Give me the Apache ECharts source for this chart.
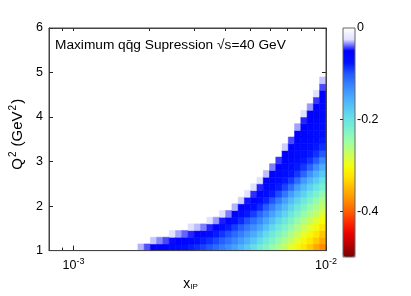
<!DOCTYPE html>
<html>
<head>
<meta charset="utf-8">
<script src="https://cdn.jsdelivr.net/npm/echarts@6/dist/echarts.min.js"></script>
<style>html,body{margin:0;padding:0;background:#fff;}#chart{width:411px;height:296px;}</style>
</head>
<body>
<div id="chart"></div>
<script>
// x_IP bin edges (log-spaced bins)
const xEdges = [0.0018, 0.001906, 0.002018, 0.002136, 0.002262, 0.002395, 0.002536, 0.002685, 0.002843, 0.003010,
  0.003187, 0.003375, 0.003573, 0.003783, 0.004006, 0.004241, 0.004491, 0.004755, 0.005034, 0.005330,
  0.005644, 0.005976, 0.006327, 0.006699, 0.007093, 0.007510, 0.007952, 0.008420, 0.008915, 0.009439, 0.0100];
// Q^2 bin edges
const qEdges = [1.0, 1.15, 1.3, 1.45, 1.6, 1.75, 1.9, 2.05, 2.2, 2.35, 2.5, 2.65, 2.8, 2.95, 3.1, 3.25, 3.4,
  3.55, 3.7, 3.85, 4.0, 4.15, 4.3, 4.45, 4.6, 4.75, 4.9, 5.05];
// suppression values per x bin, listed from the lowest Q^2 bin upward (cells above are empty)
const suppressionByColumn = [
  [-0.03],
  [-0.041],
  [-0.05, -0.028],
  [-0.054, -0.035],
  [-0.058, -0.042],
  [-0.062, -0.049, -0.025],
  [-0.067, -0.053, -0.032],
  [-0.073, -0.058, -0.039],
  [-0.08, -0.063, -0.046, -0.025],
  [-0.085, -0.07, -0.052, -0.029],
  [-0.092, -0.08, -0.059, -0.036],
  [-0.1, -0.086, -0.069, -0.046, -0.025],
  [-0.11, -0.094, -0.079, -0.057, -0.033],
  [-0.12, -0.104, -0.088, -0.068, -0.047, -0.025],
  [-0.132, -0.115, -0.098, -0.079, -0.059, -0.036],
  [-0.146, -0.127, -0.11, -0.091, -0.072, -0.053, -0.03],
  [-0.16, -0.141, -0.122, -0.103, -0.084, -0.067, -0.051, -0.027],
  [-0.176, -0.156, -0.137, -0.117, -0.098, -0.078, -0.063, -0.048, -0.025],
  [-0.195, -0.173, -0.152, -0.132, -0.113, -0.091, -0.073, -0.06, -0.045, -0.025],
  [-0.211, -0.193, -0.171, -0.148, -0.128, -0.108, -0.085, -0.071, -0.059, -0.046, -0.025],
  [-0.226, -0.21, -0.192, -0.169, -0.147, -0.125, -0.103, -0.082, -0.071, -0.061, -0.051, -0.029],
  [-0.242, -0.225, -0.209, -0.19, -0.168, -0.146, -0.123, -0.099, -0.08, -0.071, -0.062, -0.054, -0.036],
  [-0.258, -0.241, -0.225, -0.208, -0.189, -0.167, -0.145, -0.12, -0.096, -0.079, -0.071, -0.063, -0.056, -0.044],
  [-0.275, -0.258, -0.241, -0.224, -0.207, -0.187, -0.166, -0.144, -0.117, -0.093, -0.078, -0.071, -0.064, -0.057, -0.05, -0.027],
  [-0.291, -0.274, -0.258, -0.24, -0.223, -0.206, -0.186, -0.165, -0.142, -0.113, -0.09, -0.077, -0.072, -0.066, -0.06, -0.054, -0.042],
  [-0.307, -0.291, -0.275, -0.259, -0.242, -0.224, -0.206, -0.186, -0.165, -0.141, -0.11, -0.089, -0.078, -0.072, -0.067, -0.062, -0.057, -0.051, -0.032],
  [-0.322, -0.307, -0.292, -0.276, -0.26, -0.243, -0.225, -0.206, -0.185, -0.164, -0.139, -0.108, -0.089, -0.078, -0.073, -0.069, -0.064, -0.059, -0.054, -0.046, -0.025],
  [-0.339, -0.323, -0.307, -0.291, -0.275, -0.26, -0.243, -0.223, -0.204, -0.183, -0.161, -0.135, -0.106, -0.088, -0.078, -0.073, -0.069, -0.065, -0.06, -0.056, -0.051, -0.033],
  [-0.361, -0.341, -0.324, -0.306, -0.29, -0.274, -0.259, -0.241, -0.221, -0.201, -0.179, -0.157, -0.132, -0.103, -0.087, -0.078, -0.074, -0.07, -0.066, -0.061, -0.057, -0.053, -0.044, -0.025],
  [-0.378, -0.36, -0.342, -0.324, -0.305, -0.289, -0.273, -0.258, -0.239, -0.218, -0.197, -0.175, -0.154, -0.128, -0.101, -0.086, -0.078, -0.074, -0.07, -0.067, -0.063, -0.06, -0.056, -0.052, -0.042, -0.028]
];
const xMajorTicks = [0.001, 0.01];
const xMinorTicks = [0.0009, 0.002, 0.003, 0.004, 0.005, 0.006, 0.007, 0.008, 0.009];
const colorbarLabels = [-0.4, -0.2, 0];
const colorbarTicks = [-0.4, -0.2];
const titleText = 'Maximum qq\u0304g Supression \u221As=40 GeV';

const palette = ['#780000','#b40000','#e80000','#ff2800','#ff6000','#ff9000','#ffb800','#ffe400','#f4ff10','#c8ff60',
  '#a0ffa0','#80f4c8','#68e4e4','#58c8f4','#48a8ff','#3884ff','#2058ff','#0010ff','#0000ff','#e0e0ff','#ffffff'];

const cells = [];
suppressionByColumn.forEach((col, i) => {
  col.forEach((v, j) => {
    cells.push([xEdges[i], xEdges[i + 1], qEdges[j], qEdges[j + 1], v]);
  });
});

const FONT = "'Liberation Sans', Arial, Helvetica, sans-serif";
const chart = echarts.init(document.getElementById('chart'), null, {renderer: 'canvas'});
const lineColor = '#444';

chart.setOption({
  animation: false,
  backgroundColor: '#fff',
  textStyle: {fontFamily: FONT, color: '#000'},
  title: {
    text: titleText, left: 55, top: 38, padding: 0,
    textStyle: {fontSize: 13.7, fontWeight: 'normal', color: '#000', fontFamily: FONT}
  },
  grid: [
    {left: 45, right: 85, top: 28, bottom: 39, show: true, borderColor: lineColor, borderWidth: 1, z: 5, backgroundColor: 'transparent'},
    {left: 343, top: 28, width: 12, height: 229, show: true, borderColor: '#666', borderWidth: 1, z: 6, backgroundColor: 'transparent'}
  ],
  xAxis: [
    {
      type: 'log', logBase: 10, min: 0.0008, max: 0.01, gridIndex: 0, position: 'bottom',
      axisLine: {show: true, lineStyle: {color: lineColor}},
      axisTick: {show: true, inside: true, length: 5, customValues: xMajorTicks, lineStyle: {color: '#222'}},
      axisLabel: {
        show: true, customValues: xMajorTicks, margin: 6,
        formatter: v => '{b|10}{s|' + Math.round(Math.log10(v)) + '}',
        rich: {
          b: {fontSize: 12.5, color: '#000', fontFamily: FONT},
          s: {fontSize: 9, color: '#000', fontFamily: FONT, padding: [0, 0, 9, 0]}
        }
      },
      splitLine: {show: false}, minorTick: {show: false},
      name: '{a|x}{sub|IP}', nameLocation: 'middle', nameGap: 16,
      nameTextStyle: {
        padding: [0, 0, 0, 6],
        rich: {
          a: {fontSize: 14, color: '#000', fontFamily: FONT},
          sub: {fontSize: 8, color: '#000', fontFamily: FONT, padding: [6, 0, 0, 0]}
        }
      }
    },
    {
      type: 'log', logBase: 10, min: 0.0008, max: 0.01, gridIndex: 0, position: 'bottom',
      axisLine: {show: false},
      axisTick: {show: true, inside: true, length: 3, customValues: xMinorTicks, lineStyle: {color: '#222'}},
      axisLabel: {show: false}, splitLine: {show: false}
    },
    {
      type: 'log', logBase: 10, min: 0.0008, max: 0.01, gridIndex: 0, position: 'top',
      axisLine: {show: true, lineStyle: {color: lineColor}},
      axisTick: {show: true, inside: true, length: 3, customValues: xMinorTicks.concat(xMajorTicks), lineStyle: {color: '#222'}},
      axisLabel: {show: false}, splitLine: {show: false}
    },
    {type: 'value', gridIndex: 1, min: 0, max: 1, show: false}
  ],
  yAxis: [
    {
      type: 'value', min: 1, max: 6, interval: 1, gridIndex: 0, position: 'left',
      axisLine: {show: true, lineStyle: {color: lineColor}},
      axisTick: {show: true, inside: true, length: 4, lineStyle: {color: '#222'}},
      axisLabel: {fontSize: 12.5, color: '#000', margin: 6, fontFamily: FONT},
      splitLine: {show: false},
      name: '{t|Q}{s|2}{t| (GeV}{s|2}{t|)}', nameLocation: 'middle', nameGap: 22, nameRotate: 90,
      nameTextStyle: {
        padding: [0, 0, 0, 10],
        rich: {
          t: {fontSize: 15, color: '#000', fontFamily: FONT},
          s: {fontSize: 10, color: '#000', fontFamily: FONT, padding: [0, 1, 9, 1]}
        }
      }
    },
    {
      type: 'value', min: 1, max: 6, interval: 1, gridIndex: 0, position: 'right',
      axisLine: {show: true, lineStyle: {color: lineColor}},
      axisTick: {show: true, inside: true, length: 4, lineStyle: {color: '#222'}},
      axisLabel: {show: false}, splitLine: {show: false}
    },
    {
      type: 'value', min: -0.5, max: 0, gridIndex: 1, position: 'right', z: 10,
      axisLine: {show: false},
      axisTick: {show: true, inside: true, length: 3, customValues: colorbarTicks, lineStyle: {color: '#333'}},
      axisLabel: {show: true, customValues: colorbarLabels, fontSize: 12.5, color: '#000', margin: 2, fontFamily: FONT,
        formatter: v => (v === 0 ? '0' : String(v))},
      splitLine: {show: false}
    }
  ],
  visualMap: {
    type: 'continuous', min: -0.5, max: 0, dimension: 4, seriesIndex: 0,
    left: 343, top: 28, itemWidth: 12, itemHeight: 229, padding: 0,
    calculable: false, hoverLink: false, orient: 'vertical',
    inRange: {color: palette},
    textStyle: {color: '#000'}
  },
  series: [{
    type: 'custom', xAxisIndex: 0, yAxisIndex: 0, clip: true,
    encode: {x: [0, 1], y: [2, 3]},
    data: cells,
    renderItem: function (params, api) {
      const p0 = api.coord([api.value(0), api.value(3)]);
      const p1 = api.coord([api.value(1), api.value(2)]);
      const c = api.visual('color');
      return {
        type: 'rect',
        shape: {x: p0[0], y: p0[1], width: p1[0] - p0[0], height: p1[1] - p0[1]},
        style: {fill: c, stroke: c, lineWidth: 0.6}
      };
    }
  }]
});
</script>
</body>
</html>
